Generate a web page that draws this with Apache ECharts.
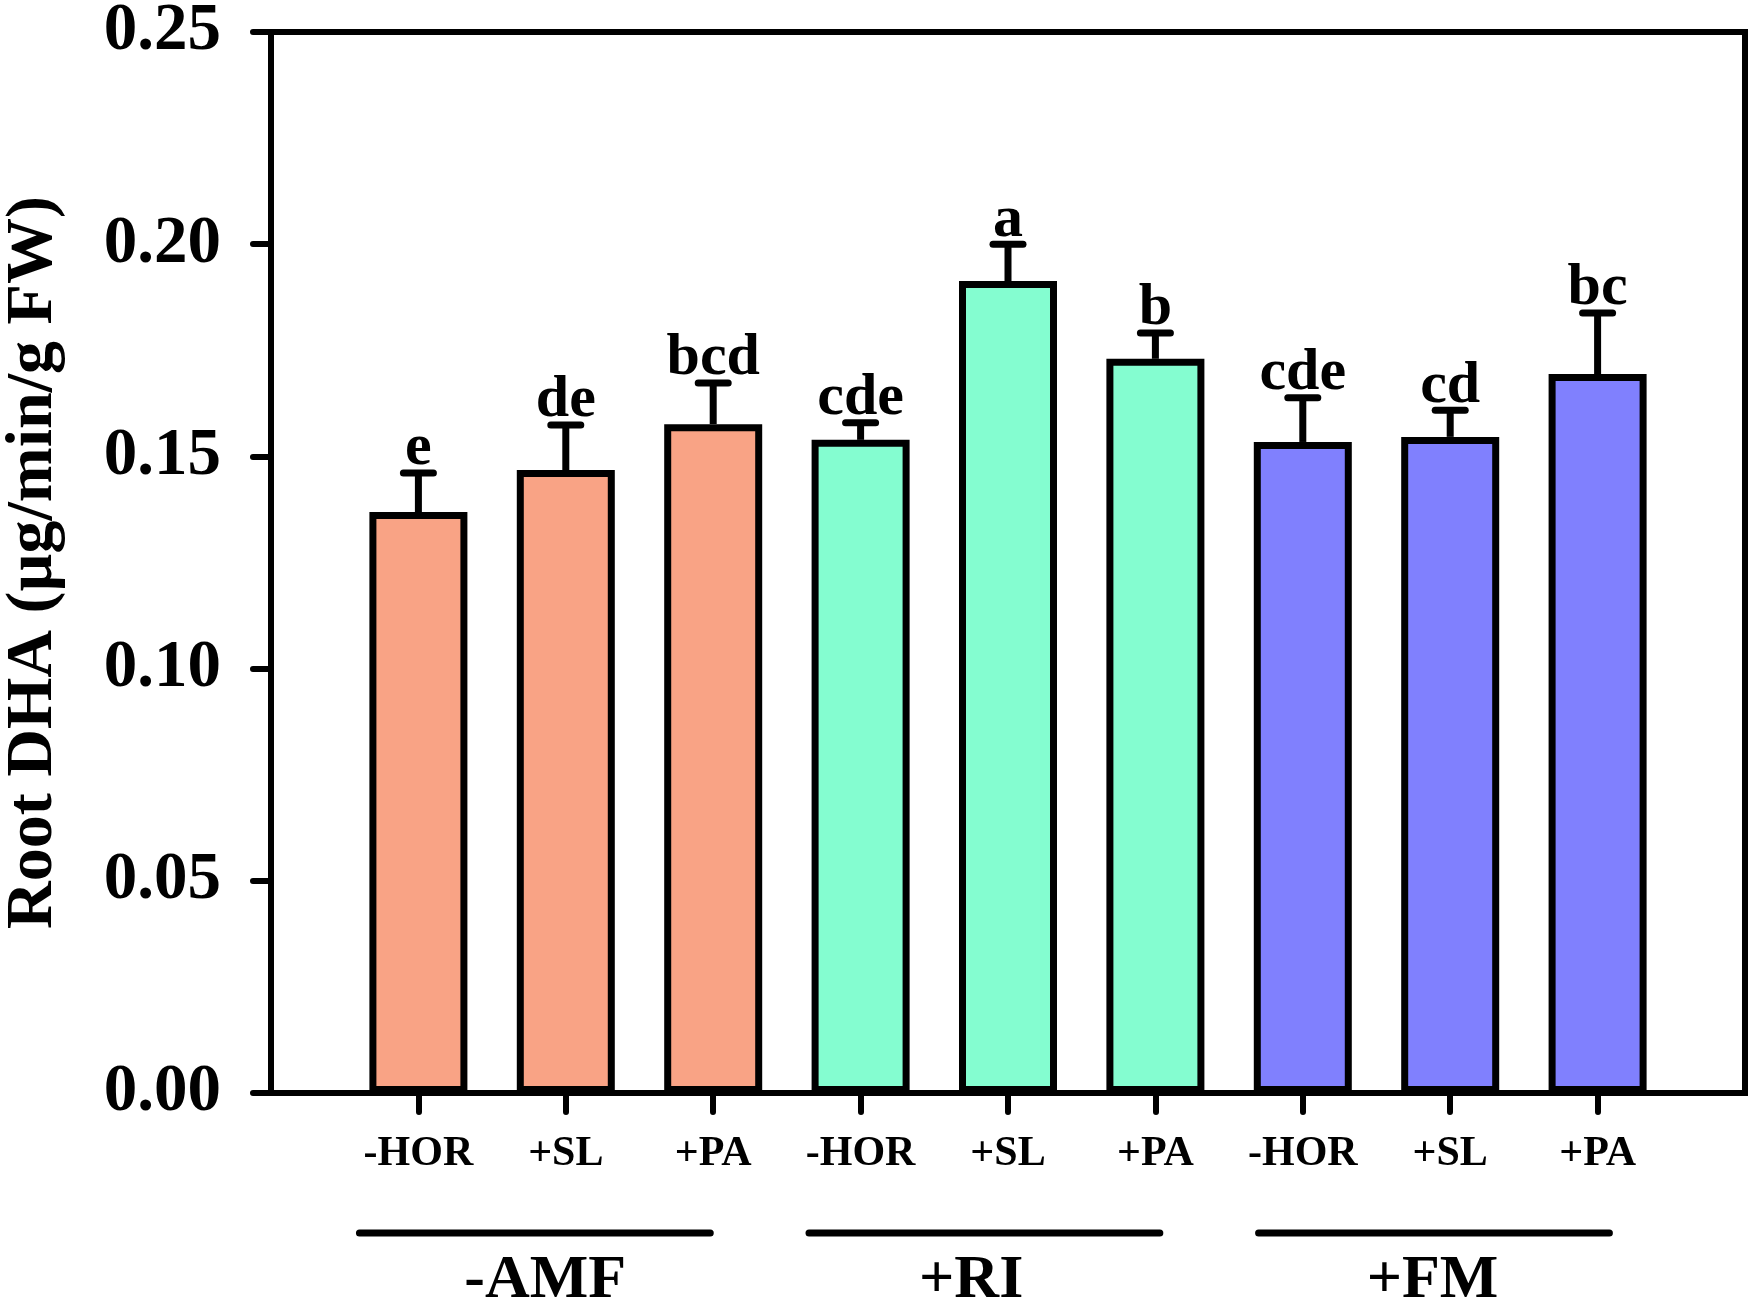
<!DOCTYPE html>
<html><head><meta charset="utf-8">
<script src="https://cdn.jsdelivr.net/npm/echarts@6/dist/echarts.min.js"></script>
<style>html,body{margin:0;padding:0;background:#fff}#c{width:1758px;height:1310px}</style>
</head><body><div id="c"></div>
<script>
const categories = ['-HOR', '+SL', '+PA', '-HOR', '+SL', '+PA', '-HOR', '+SL', '+PA'];
const positions = [1, 2, 3, 4, 5, 6, 7, 8, 9];
const values = [0.1369, 0.1468, 0.1576, 0.1539, 0.1913, 0.1730, 0.1534, 0.1546, 0.1694];
const errors = [0.0092, 0.0106, 0.0097, 0.0040, 0.0087, 0.0061, 0.0104, 0.0063, 0.0144];
const letters = ['e', 'de', 'bcd', 'cde', 'a', 'b', 'cde', 'cd', 'bc'];
const barColors = ['#F9A385', '#F9A385', '#F9A385', '#84FDD0', '#84FDD0', '#84FDD0', '#8080FE', '#8080FE', '#8080FE'];
const groupNames = ['-AMF', '+RI', '+FM'];
const groupStart = [0.6, 3.65, 6.7];
const groupEnd = [2.98, 6.03, 9.08];
const groupLabelPos = [1.86, 4.75, 7.88];
const yTicks = [0, 0.05, 0.10, 0.15, 0.20, 0.25];
const yTitle = 'Root DHA (µg/min/g FW)';

const FONT = "'Liberation Serif', 'Times New Roman', serif";

const chart = echarts.init(document.getElementById('c'));
const barData = positions.map((p, i) => ({ value: [p, values[i]], itemStyle: { color: barColors[i] } }));
const errData = positions.map((p, i) => [p, values[i], errors[i]]);
const groupData = groupNames.map((g, i) => [groupStart[i], groupEnd[i], groupLabelPos[i]]);

chart.setOption({
  animation: false,
  backgroundColor: '#fff',
  grid: { left: 271, right: 13, top: 32, bottom: 217, containLabel: false, outerBoundsMode: 'none', show: true, borderColor: '#000', borderWidth: 6 },
  xAxis: {
    type: 'value', min: 0, max: 10,
    splitLine: { show: false },
    axisLine: { show: true, lineStyle: { color: '#000', width: 6 } },
    axisTick: { show: true, customValues: positions, length: 19, lineStyle: { color: '#000', width: 6, cap: 'round' } },
    axisLabel: {
      customValues: positions, margin: 40,
      formatter: v => categories[positions.indexOf(Math.round(v))] || '',
      fontFamily: FONT, fontWeight: 'bold', fontSize: 42, color: '#000'
    }
  },
  yAxis: {
    type: 'value', min: yTicks[0], max: yTicks[yTicks.length - 1], interval: 0.05,
    splitLine: { show: false },
    axisLine: { show: true, lineStyle: { color: '#000', width: 6 } },
    axisTick: { show: true, length: 18, lineStyle: { color: '#000', width: 6, cap: 'round' } },
    axisLabel: { margin: 50, formatter: v => v.toFixed(2), fontFamily: FONT, fontWeight: 'bold', fontSize: 67, color: '#000' },
    name: yTitle, nameLocation: 'middle', nameRotate: 90, nameGap: 204,
    nameTextStyle: { fontFamily: FONT, fontWeight: 'bold', fontSize: 66, color: '#000' }
  },
  series: [
    {
      type: 'bar', data: barData, barWidth: 98,
      itemStyle: { borderColor: '#000', borderWidth: 7 }
    },
    {
      type: 'custom', z: 3, clip: false, data: errData,
      renderItem: (params, api) => {
        const x = api.value(0), v = api.value(1), e = api.value(2);
        const p0 = api.coord([x, v]);
        const p1 = api.coord([x, v + e]);
        const lbl = letters[params.dataIndex];
        return {
          type: 'group', children: [
            { type: 'line', shape: { x1: p0[0], y1: p0[1], x2: p1[0], y2: p1[1] }, style: { stroke: '#000', lineWidth: 7 } },
            { type: 'line', shape: { x1: p1[0] - 15, y1: p1[1], x2: p1[0] + 15, y2: p1[1] }, style: { stroke: '#000', lineWidth: 7, lineCap: 'round' } },
            { type: 'text', style: { text: lbl, x: p1[0], y: p1[1] + 6, align: 'center', verticalAlign: 'bottom', font: 'bold 60px ' + FONT, fill: '#000' } }
          ]
        };
      }
    },
    {
      type: 'custom', clip: false, data: groupData,
      renderItem: (params, api) => {
        const a = api.coord([api.value(0), 0]);
        const b = api.coord([api.value(1), 0]);
        const c = api.coord([api.value(2), 0]);
        const name = groupNames[params.dataIndex];
        return {
          type: 'group', children: [
            { type: 'line', shape: { x1: a[0], y1: a[1] + 140, x2: b[0], y2: b[1] + 140 }, style: { stroke: '#000', lineWidth: 7, lineCap: 'round' } },
            { type: 'text', style: { text: name, x: c[0], y: a[1] + 188, align: 'center', verticalAlign: 'middle', font: 'bold 62px ' + FONT, fill: '#000' } }
          ]
        };
      }
    }
  ]
});
</script>
</body></html>
